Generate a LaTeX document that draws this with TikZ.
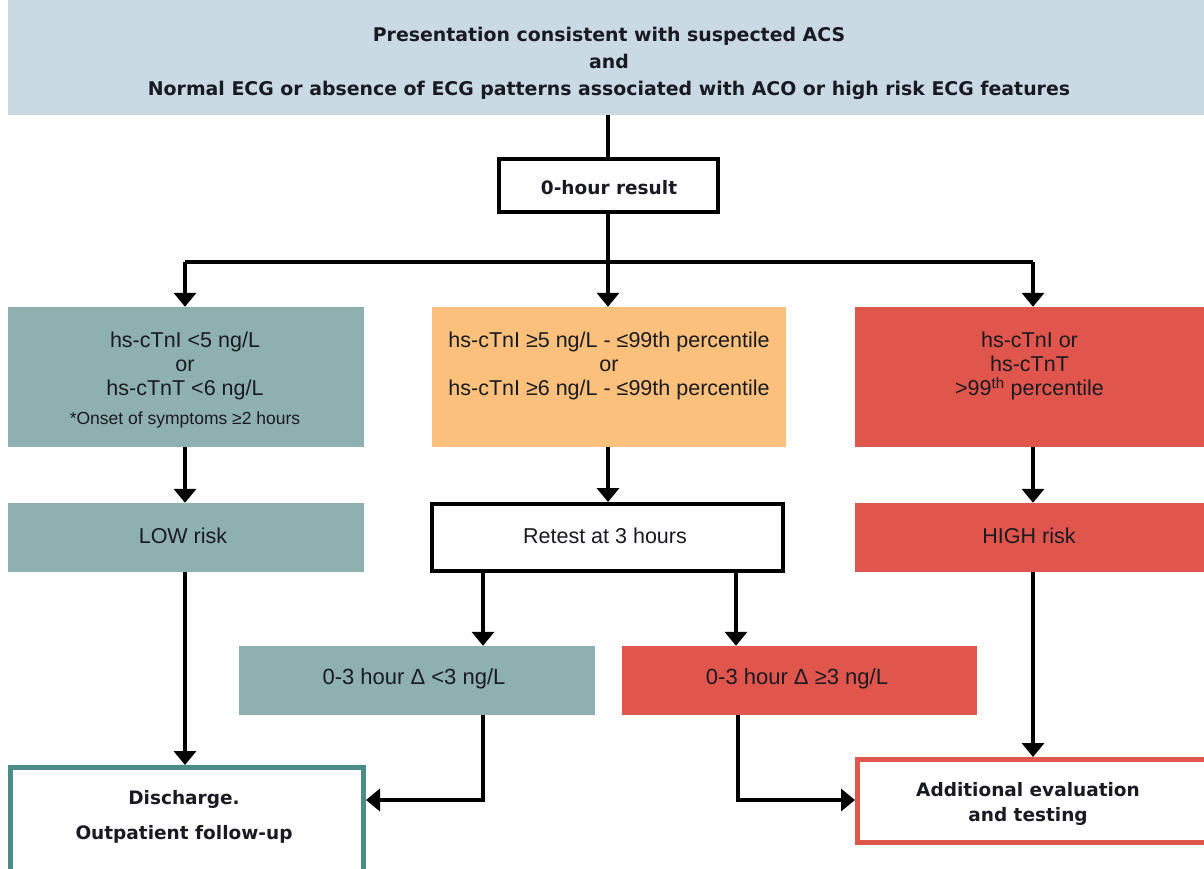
\documentclass[tikz,border=0pt]{standalone}
\usepackage{fontspec}
\setmainfont{Liberation Sans}
\newfontfamily\bfam{DejaVu Sans}
\usetikzlibrary{arrows.meta}
\definecolor{topc}{HTML}{C9DAE3}
\definecolor{tealc}{HTML}{8FB0B0}
\definecolor{orangec}{HTML}{FBC07B}
\definecolor{redc}{HTML}{E0564C}
\definecolor{tealb}{HTML}{4A8C88}
\definecolor{txt}{HTML}{1A1A22}
\tikzset{
  fbox/.style={rectangle, inner sep=0pt, draw=none, text=txt, align=center},
  regtxt/.style={font=\fontsize{21.5}{24}\selectfont},
  boldtxt/.style={font=\bfam\bfseries\fontsize{18.5}{24}\selectfont},
  ln/.style={line width=4pt, draw=black},
  arr/.style={line width=4pt, draw=black, -{Triangle[width=22pt,length=14pt]}},
}
\begin{document}
\begin{tikzpicture}[x=1pt,y=-1pt]
\useasboundingbox (0,0) rectangle (1204,868);
\fill[white] (0,0) rectangle (1204,868);
% top box
\node[fbox, fill=topc, minimum width=1196pt, minimum height=115pt] (top) at (606,57.5) {};
\node[fbox, font=\bfam\bfseries\fontsize{18.9}{27}\selectfont] (topt) at (609,63)
  {Presentation consistent with suspected ACS\\and\\Normal ECG or absence of ECG patterns associated with ACO or high risk ECG features};
% 0-hour
\node[fbox, draw=black, line width=4pt, fill=white, minimum width=219pt, minimum height=53pt, boldtxt] (h0) at (608.5,185.5) {};
\node[fbox, boldtxt] (h0t) at (609,187.5) {0-hour result};
% level 1 boxes
\node[fbox, fill=tealc, minimum width=356pt, minimum height=140pt] (low0) at (186,377) {};
\node[fbox, regtxt, anchor=center] (low0t) at (185,380)
  {hs-cTnI <5 ng/L\\or\\hs-cTnT <6 ng/L\\[5pt]{\fontsize{17.5}{20}\selectfont *Onset of symptoms ≥2 hours}};
\node[fbox, fill=orangec, minimum width=354pt, minimum height=140pt] (mid0) at (609,377) {};
\node[fbox, regtxt] (mid0t) at (609,366)
  {hs-cTnI ≥5 ng/L - ≤99th percentile\\or\\hs-cTnI ≥6 ng/L - ≤99th percentile};
\node[fbox, fill=redc, minimum width=349pt, minimum height=140pt] (high0) at (1029.5,377) {};
\node[fbox, regtxt] (high0t) at (1029.5,366)
  {hs-cTnI or\\hs-cTnT\\>99\textsuperscript{th} percentile};
% level 2
\node[fbox, fill=tealc, minimum width=356pt, minimum height=69pt] (lowr) at (186,537.5) {};
\node[fbox, regtxt] (lowrt) at (183,535.5) {LOW risk};
\node[fbox, draw=black, line width=4pt, fill=white, minimum width=351pt, minimum height=67pt] (retest) at (607.5,537.5) {};
\node[fbox, regtxt] (retestt) at (605,535.5) {Retest at 3 hours};
\node[fbox, fill=redc, minimum width=349pt, minimum height=69pt] (highr) at (1029.5,537.5) {};
\node[fbox, regtxt] (highrt) at (1029,535.5) {HIGH risk};
% level 3
\node[fbox, fill=tealc, minimum width=356pt, minimum height=69pt] (dlow) at (417,680.5) {};
\node[fbox, font=\fontsize{22}{24}\selectfont] (dlowt) at (414,679) {0-3 hour Δ <3 ng/L};
\node[fbox, fill=redc, minimum width=355pt, minimum height=69pt] (dhigh) at (799.5,680.5) {};
\node[fbox, font=\fontsize{22}{24}\selectfont] (dhight) at (797,679) {0-3 hour Δ ≥3 ng/L};
% outcomes
\node[fbox, draw=tealb, line width=5pt, fill=white, minimum width=353pt, minimum height=107pt] (dis) at (187,821) {};
\node[fbox, font=\bfam\bfseries\fontsize{18.5}{35}\selectfont] (dist) at (184,816.5) {Discharge.\\Outpatient follow-up};
\node[fbox, draw=redc, line width=5pt, fill=white, minimum width=356.5pt, minimum height=83pt] (add) at (1035.75,801) {};
\node[fbox, font=\bfam\bfseries\fontsize{18.5}{25}\selectfont] (addt) at (1028,803.5) {Additional evaluation\\and testing};
% coordinates
\coordinate (split) at (608,262);
\coordinate (xl) at (185,0);
\coordinate (xm) at (608,0);
\coordinate (xr) at (1033,0);
\coordinate (xrl) at (483,0);
\coordinate (xrr) at (736,0);
\coordinate (xdl) at (483,0);
\coordinate (xdr) at (738,0);
\coordinate (yb) at (0,800);
% connectors
\draw[ln] (top.south -| xm) -- (h0.north -| xm);
\draw[ln] (h0.south -| xm) -- (split);
\draw[ln] (split -| xl) -- (split -| xr);
\draw[arr] (split -| xl) -- (low0.north -| xl);
\draw[arr] (split) -- (mid0.north -| xm);
\draw[arr] (split -| xr) -- (high0.north -| xr);
\draw[arr] (low0.south -| xl) -- (lowr.north -| xl);
\draw[arr] (mid0.south -| xm) -- (retest.north -| xm);
\draw[arr] (high0.south -| xr) -- (highr.north -| xr);
\draw[arr] (retest.south -| xrl) -- (dlow.north -| xrl);
\draw[arr] (retest.south -| xrr) -- (dhigh.north -| xrr);
\draw[arr] (lowr.south -| xl) -- (dis.north -| xl);
\draw[arr] (highr.south -| xr) -- (add.north -| xr);
\draw[arr] (dlow.south -| xdl) -- (yb -| xdl) -- (yb -| dis.east);
\draw[arr] (dhigh.south -| xdr) -- (yb -| xdr) -- (yb -| add.west);
\end{tikzpicture}
\end{document}
